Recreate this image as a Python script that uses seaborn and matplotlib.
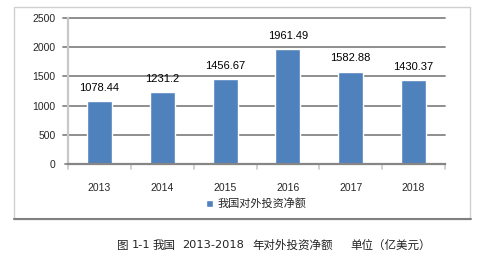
import matplotlib
matplotlib.use("Agg")
import matplotlib.pyplot as plt
import seaborn as sns
import pandas as pd
from matplotlib.patches import Rectangle
from matplotlib.lines import Line2D

years = ["2013", "2014", "2015", "2016", "2017", "2018"]
values = [1078.44, 1231.2, 1456.67, 1961.49, 1582.88, 1430.37]
labels = ["1078.44", "1231.2", "1456.67", "1961.49", "1582.88", "1430.37"]
yticks = [0, 500, 1000, 1500, 2000, 2500]
series_name = "我国对外投资净额"
caption_parts = ["图", "1-1", "我国", "2013-2018", "年对外投资净额", "单位（亿美元）"]

sns.set_style("white")
plt.rcParams['font.family'] = ['Liberation Sans', 'Noto Sans CJK SC', 'DejaVu Sans']

W, H = 485, 259
fig = plt.figure(figsize=(W / 100, H / 100), dpi=100)
ax = fig.add_axes([68 / W, 1 - 164 / H, (445 - 68) / W, (164 - 18) / H])

df = pd.DataFrame({"year": years, "value": values})
sns.barplot(data=df, x="year", y="value", color="#4F81BD", width=0.4,
            saturation=1, ax=ax, label=series_name, zorder=3)

ax.set_xlim(-0.5, 5.5)
ax.set_ylim(0, 2500)
ax.set_yticks(yticks)
ax.set_yticklabels([str(t) for t in yticks], fontsize=7.5)
ax.set_xlabel("")
ax.set_ylabel("")
ax.tick_params(axis="x", length=0, pad=14, labelsize=7.5)
ax.tick_params(axis="y", length=0, pad=9)
for t in yticks[1:]:
    ax.axhline(t, color="#868686", lw=1.3, zorder=1, xmin=-0.013, clip_on=False)
for s in ["top", "right"]:
    ax.spines[s].set_visible(False)
ax.spines["left"].set_color("#c8c8c8")
ax.spines["left"].set_linewidth(1.6)
ax.spines["bottom"].set_color("#868686")
ax.spines["bottom"].set_linewidth(1.6)
ax.spines["bottom"].set_zorder(4)
for b in [i - 0.5 for i in range(7)]:
    ax.plot([b, b], [0, -80], color="#c8c8c8", lw=1.2, clip_on=False, zorder=2)
ax.plot([-0.55, -0.5], [0, 0], color="#868686", lw=1.3, clip_on=False)

for i, (v, lab) in enumerate(zip(values, labels)):
    ax.annotate(lab, (i, v), xytext=(0, 6), textcoords="offset points",
                ha="center", va="bottom", fontsize=8, color="#000000")

leg = ax.legend(loc="upper center", bbox_to_anchor=(0.5, -0.205), frameon=False,
                fontsize=8, handlelength=0.6, handleheight=0.6, handletextpad=0.4,
                borderaxespad=0)

# chart border
fig.patches.append(Rectangle((14 / W, 1 - 219 / H), (470 - 14) / W, (219 - 7) / H,
                             transform=fig.transFigure, fill=False,
                             edgecolor="#d0d0d0", lw=1.0))
fig.lines.append(Line2D([14 / W, 471 / W], [1 - 219 / H, 1 - 219 / H],
                        transform=fig.transFigure, color="#808080", lw=1.5))

cap_x = [117, 132, 153, 182, 252, 350]
for x, part in zip(cap_x, caption_parts):
    is_num = part[0].isdigit()
    fig.text(x / W, 1 - 245 / H, part, ha="left", va="center",
             fontsize=8.2 if is_num else 8.3,
             family=['DejaVu Sans'] if is_num else ['Noto Sans CJK SC', 'DejaVu Sans'],
             color="#222222")

fig.savefig("out.png", dpi=100)
